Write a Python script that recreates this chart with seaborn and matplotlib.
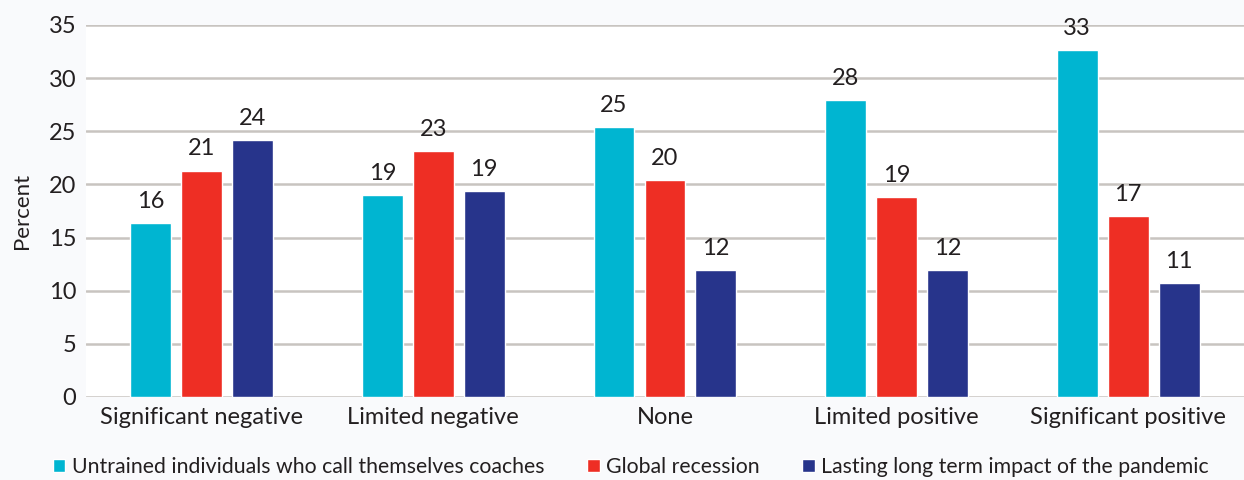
import matplotlib
import seaborn as sns
import pandas as pd

matplotlib.use('Agg')
import matplotlib.pyplot as plt

categories = ['Significant negative', 'Limited negative', 'None',
              'Limited positive', 'Significant positive']
series_names = ['Untrained individuals who call themselves coaches',
                'Global recession',
                'Lasting long term impact of the pandemic']
untrained = [16.4, 19.0, 25.4, 27.9, 32.6]
recession = [21.3, 23.1, 20.4, 18.8, 17.0]
pandemic = [24.2, 19.4, 11.9, 11.9, 10.7]
colors = ['#00b5d1', '#ee2e24', '#27348b']

# long-form table for seaborn
df = pd.DataFrame({
    'category': categories * 3,
    'series': [s for s in series_names for _ in categories],
    'value': untrained + recession + pandemic,
})

sns.set_style('white')
plt.rcParams['font.family'] = ['Lato', 'DejaVu Sans']

fig = plt.figure(figsize=(12.44, 4.8), dpi=100)
fig.patch.set_facecolor('#f9fafc')
ax = fig.add_axes([0.069, 0.173, 0.931, 0.775])
ax.set_facecolor('white')

sns.barplot(data=df, x='category', y='value', hue='series', order=categories,
            hue_order=series_names, palette=colors, width=0.66, gap=0.2,
            saturation=1, ax=ax)

# value labels above bars
for container in ax.containers:
    ax.bar_label(container, labels=[f'{round(v.get_height()):d}' for v in container],
                 padding=8, fontsize=17, color='#231f20')

ax.set_ylim(0, 35)
ax.set_yticks(range(0, 36, 5))
ax.set_xlim(-0.5, 4.5)
ax.yaxis.grid(True, color='#c8c4c0', linewidth=1.8)
ax.set_axisbelow(True)
for s in ax.spines.values():
    s.set_visible(False)
ax.tick_params(axis='both', length=0, labelsize=17, labelcolor='#231f20', pad=7)
ax.set_xlabel('')
ax.set_ylabel('Percent', fontsize=16, color='#231f20', labelpad=12)

handles, labels = ax.get_legend_handles_labels()
ax.legend_.remove()
fig.legend(handles, labels, loc='center', bbox_to_anchor=(0.507, 0.027), ncol=3,
           frameon=False, fontsize=15.3, handlelength=0.6, handleheight=0.6,
           handletextpad=0.3, columnspacing=2.0, labelcolor='#231f20',
           borderpad=0, borderaxespad=0)

plt.savefig('out.png', dpi=100, facecolor=fig.get_facecolor())
plt.close()
